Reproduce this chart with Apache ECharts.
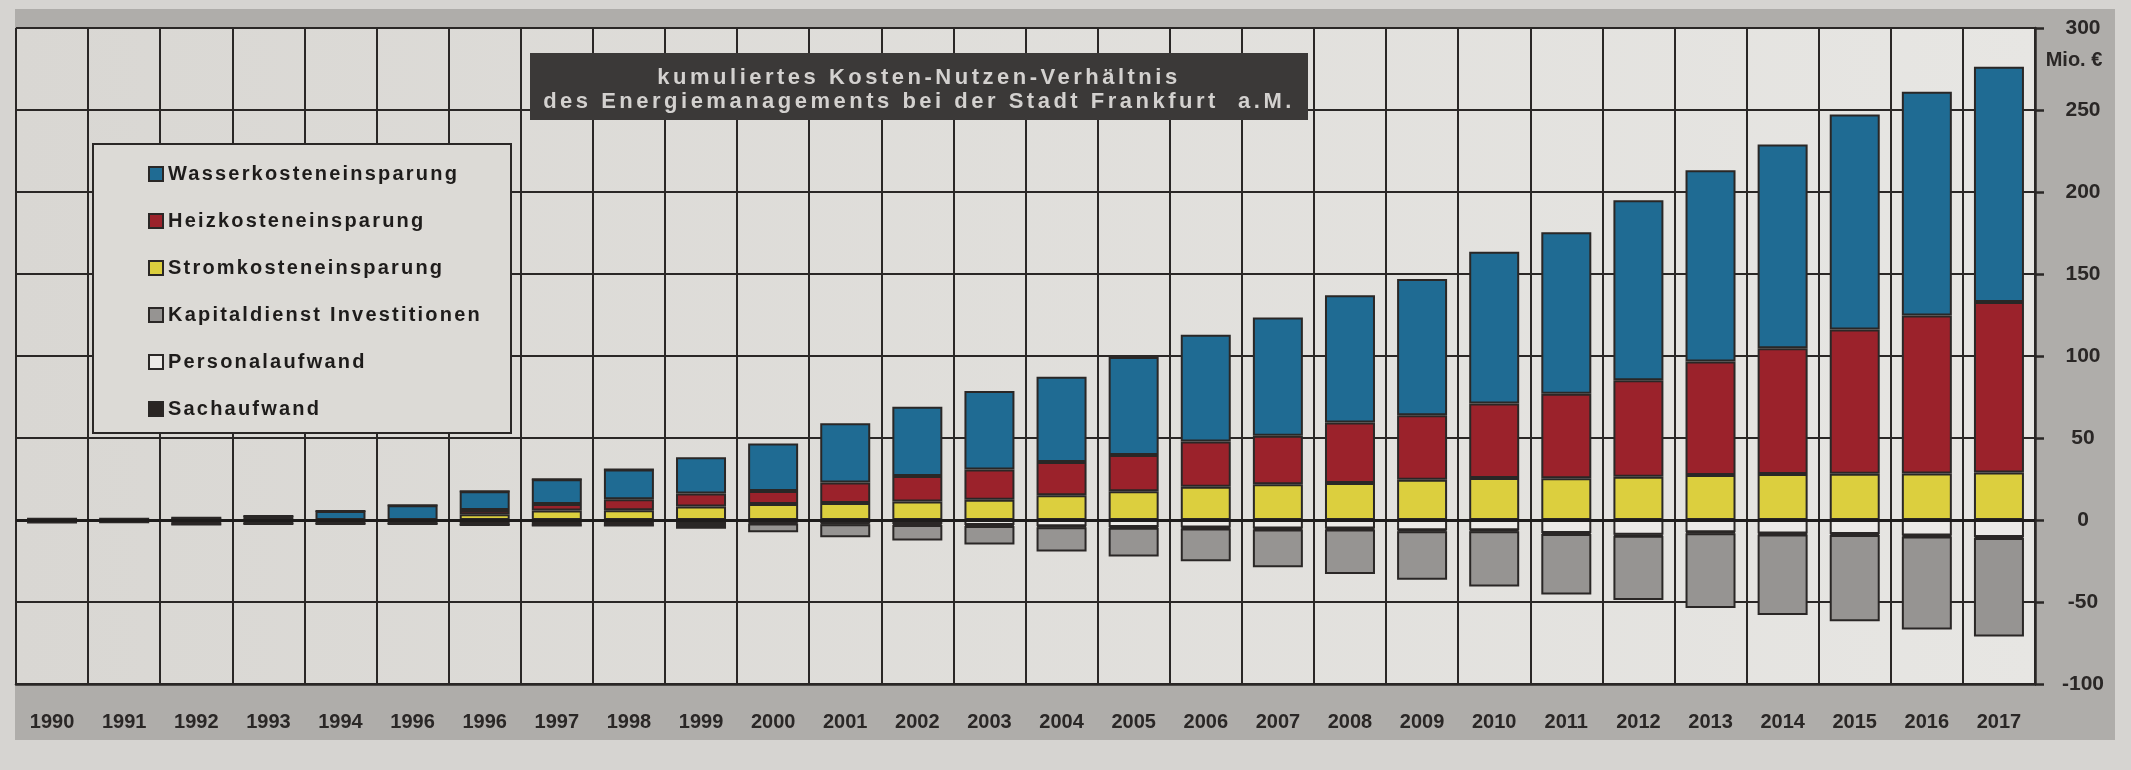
<!DOCTYPE html>
<html>
<head>
<meta charset="utf-8">
<script src="https://cdn.jsdelivr.net/npm/echarts@6/dist/echarts.min.js"></script>
<style>
html,body{margin:0;padding:0;background:#d6d4d1;}
#c{width:2131px;height:770px;}
</style>
</head>
<body>
<div id="c"></div>
<script>
// ---- data ----
const categories = ['1990','1991','1992','1993','1994','1996','1996','1997','1998','1999','2000','2001','2002','2003','2004','2005','2006','2007','2008','2009','2010','2011','2012','2013','2014','2015','2016','2017'];
const stromkosten = [0,0,0,0,0,0,3.5,5.8,6,8.3,9.7,10.3,11.3,12.3,15.1,17.5,20.2,21.8,22.5,24.6,25.6,25.5,26.3,27.5,28,28.2,28.3,29];
const heizkosten = [0,0,0,0,0,0,2.6,3.9,6.7,7.8,8,12.5,15.5,18.5,20.2,22.2,27.6,29.6,37,39.3,45.4,51.5,58.9,69.2,76.8,88,96.4,104];
const wasserkosten = [0.8,0.8,1.4,2.4,5.5,9,11.4,15.1,18.1,22.2,29,36.2,42.2,47.8,52,59.7,65.1,72,77.5,83.1,92.5,98.5,109.8,116.6,124.2,131.1,136.5,143.3];
const personalaufwand = [0,0,0,0,0,0,0,0,0,-0.5,-1.5,-2,-2.5,-3,-3.8,-4.2,-4.6,-5.2,-5.2,-6.2,-6.2,-7.9,-9,-7.5,-8.2,-8.5,-9.4,-10.4];
const sachaufwand = [-1.5,-1.3,-2.8,-2.5,-2.5,-2.5,-3,-3.4,-3.4,-2.5,-0.6,-0.6,-0.6,-0.6,-0.6,-0.6,-0.6,-0.6,-0.6,-0.6,-0.6,-0.6,-0.6,-0.6,-0.6,-0.6,-0.6,-0.6];
const kapitaldienst = [0,0,0,0,0,0,0,0,0,-2.4,-5.4,-7.9,-9.4,-11.3,-14.8,-17.4,-20,-23,-27.1,-29.7,-33.7,-37,-39.2,-45.5,-49.2,-52.6,-56.8,-60];
const yTicks = {min:-100, max:300, interval:50};
const legendOrder = ['Wasserkosteneinsparung','Heizkosteneinsparung','Stromkosteneinsparung','Kapitaldienst Investitionen','Personalaufwand','Sachaufwand'];
const titleLines = ['kumuliertes Kosten-Nutzen-Verhältnis','des Energiemanagements bei der Stadt Frankfurt  a.M.'];
const unitLabel = 'Mio. €';

// ---- styles ----
const FONT = 'Liberation Sans, Arial, sans-serif';
const INK = '#2a2726';
const BORDER = '#2a2726';
const GRID = {left:16, right:96, top:28, bottom:86};

function barSeries(name, data, color){
  return {
    name, type:'bar', stack:'total', data, barWidth:50,
    itemStyle:{color, borderColor:BORDER, borderWidth:2},
    emphasis:{disabled:true}
  };
}

const series = [
  barSeries('Stromkosteneinsparung', stromkosten, '#dccf3e'),
  barSeries('Heizkosteneinsparung', heizkosten, '#9b222b'),
  barSeries('Wasserkosteneinsparung', wasserkosten, '#1f6b93'),
  barSeries('Personalaufwand', personalaufwand, '#eceae7'),
  barSeries('Sachaufwand', sachaufwand, '#2a2523'),
  barSeries('Kapitaldienst Investitionen', kapitaldienst, '#969492')
];
series[2].markLine = {
  silent:true, symbol:'none', animation:false,
  label:{show:false},
  lineStyle:{color:'#1e1c1b', width:3, type:'solid'},
  data:[{yAxis:0}]
};

const chart = echarts.init(document.getElementById('c'), null, {renderer:'canvas'});
chart.setOption({
  animation:false,
  backgroundColor:'#d6d4d1',
  grid:{
    left:GRID.left, right:GRID.right, top:GRID.top, bottom:GRID.bottom,
    show:true, borderWidth:0,
    backgroundColor:new echarts.graphic.LinearGradient(0,0,1,0,[
      {offset:0,color:'#d9d7d3'},{offset:1,color:'#e7e6e3'}
    ]),
    outerBoundsMode:'none'
  },
  legend:{
    data:legendOrder, orient:'vertical', left:143, top:159,
    itemWidth:14, itemHeight:14, itemGap:27, icon:'rect',
    selectedMode:false, zlevel:1,
    textStyle:{fontFamily:FONT, fontWeight:'bold', fontSize:20, lineHeight:20, color:'#1e1c1b'}
  },
  xAxis:{
    type:'category', data:categories, boundaryGap:true,
    axisLine:{show:true, onZero:false, lineStyle:{color:BORDER, width:2.5}},
    axisTick:{show:false},
    axisLabel:{interval:0, margin:28, fontFamily:FONT, fontWeight:'bold', fontSize:20, color:INK},
    splitLine:{show:true, interval:0, lineStyle:{color:BORDER, width:2}}
  },
  yAxis:{
    type:'value', position:'right', min:yTicks.min, max:yTicks.max, interval:yTicks.interval,
    axisLine:{show:true, lineStyle:{color:BORDER, width:2.5}},
    axisTick:{show:true, inside:false, length:9, lineStyle:{color:BORDER, width:2.5}},
    axisLabel:{margin:48, align:'center', fontFamily:FONT, fontWeight:'bold', fontSize:21, color:INK},
    splitLine:{show:true, lineStyle:{color:BORDER, width:2}}
  },
  graphic:[
    {type:'rect', z:-10, shape:{x:15, y:9, width:2100, height:19}, style:{fill:'#afadaa'}},
    {type:'rect', z:-10, shape:{x:2035, y:9, width:80, height:731}, style:{fill:'#afadaa'}},
    {type:'rect', z:-10, shape:{x:15, y:684, width:2100, height:56}, style:{fill:'#afadaa'}},
    {type:'rect', z:3, shape:{x:93, y:144, width:418, height:289}, style:{fill:'#dcdad6', stroke:BORDER, lineWidth:2}},
    {type:'rect', z:3, shape:{x:530, y:53, width:778, height:67}, style:{fill:'#3b3938'}},
    {type:'text', zlevel:2, x:919, y:78, style:{text:titleLines[0], fill:'#d3d1cf', font:'bold 22px '+FONT, align:'center', verticalAlign:'middle'}},
    {type:'text', zlevel:2, x:919, y:102, style:{text:titleLines[1], fill:'#d3d1cf', font:'bold 22px '+FONT, align:'center', verticalAlign:'middle'}},
    {type:'text', z:5, x:2074, y:60, style:{text:unitLabel, fill:INK, font:'bold 20px '+FONT, align:'center', verticalAlign:'middle'}}
  ],
  series
});

// letter spacing for the wide-set title and legend lettering
try {
  const zr = chart.getZr();
  const p = zr.painter;
  const l1 = p.getLayer(1); if (l1 && l1.ctx) l1.ctx.letterSpacing = '2.2px';
  const l2 = p.getLayer(2); if (l2 && l2.ctx) l2.ctx.letterSpacing = '3.5px';
  p.refresh(true);
} catch(e) {}
</script>
</body>
</html>
